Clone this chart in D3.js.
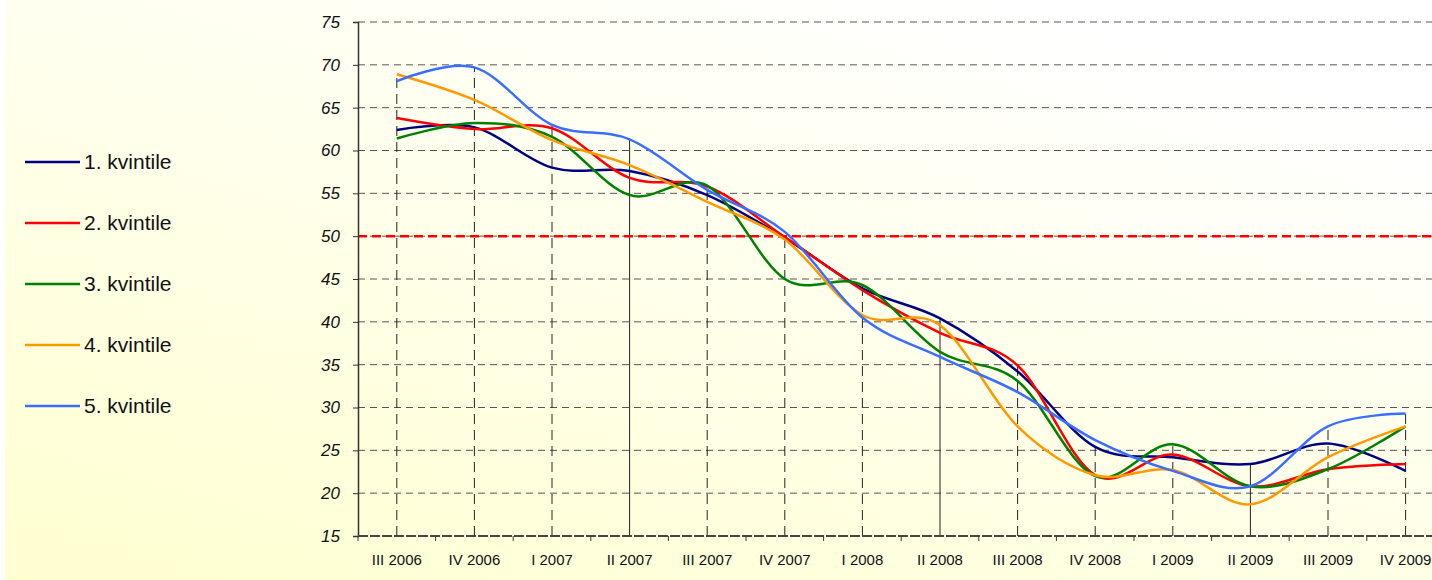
<!DOCTYPE html>
<html>
<head>
<meta charset="utf-8">
<script src="https://cdn.jsdelivr.net/npm/d3@7"></script>
<style>
  html, body { margin: 0; padding: 0; }
  svg { display: block; font-family: Arial, "Liberation Sans", sans-serif; }
</style>
</head>
<body>
<svg width="1432" height="580"></svg>
<script>
// Data
var quarters = ["III 2006", "IV 2006", "I 2007", "II 2007", "III 2007", "IV 2007", "I 2008",
                "II 2008", "III 2008", "IV 2008", "I 2009", "II 2009", "III 2009", "IV 2009"];
var seriesNames = ["1. kvintile", "2. kvintile", "3. kvintile", "4. kvintile", "5. kvintile"];
var kvintile1 = [62.4, 62.7, 58.0, 57.6, 54.8, 49.8, 43.9, 40.4, 34.2, 25.4, 24.2, 23.4, 25.8, 22.6];
var kvintile2 = [63.8, 62.5, 62.6, 56.8, 55.8, 49.9, 43.7, 38.7, 34.9, 22.1, 24.5, 20.8, 22.8, 23.4];
var kvintile3 = [61.4, 63.2, 61.6, 54.8, 55.9, 45.0, 44.3, 36.5, 33.1, 22.0, 25.7, 20.8, 22.8, 27.8];
var kvintile4 = [68.9, 65.9, 61.2, 58.3, 54.0, 49.6, 40.8, 39.6, 27.8, 22.1, 22.7, 18.7, 24.2, 27.8];
var kvintile5 = [68.1, 69.7, 63.0, 61.3, 55.4, 50.5, 40.5, 35.9, 31.8, 26.2, 22.6, 20.8, 27.8, 29.3];
var yTicks = [15, 20, 25, 30, 35, 40, 45, 50, 55, 60, 65, 70, 75];
var threshold = 50;

var allSeries = [kvintile1, kvintile2, kvintile3, kvintile4, kvintile5];
var colors = ["#000080", "#ff0000", "#008000", "#ff9900", "#3a6eff"];

var svg = d3.select("svg"),
    margin = { top: 22, left: 358 },
    step = 77.6,
    height = 514;

// achtergrond met verloop
var defs = svg.append("defs");
var grad = defs.append("linearGradient")
    .attr("id", "bg")
    .attr("x1", "0").attr("y1", "1")
    .attr("x2", "0.7").attr("y2", "0");
grad.append("stop").attr("offset", "0").attr("stop-color", "#ffffd0");
grad.append("stop").attr("offset", "1").attr("stop-color", "#ffffff");
svg.append("rect").attr("width", 1432).attr("height", 580).attr("fill", "url(#bg)");
svg.append("rect").attr("width", 5).attr("height", 580).attr("fill", "#ffffff");

// schalen
var x = d3.scaleBand().domain(quarters)
    .range([margin.left, margin.left + step * quarters.length]);
var y = d3.scaleLinear().domain([15, 75]).range([margin.top + height, margin.top]);

// horizontale rasterlijnen
svg.append("g")
  .selectAll("line")
  .data(yTicks.slice(1))
  .enter().append("line")
    .attr("x1", margin.left).attr("x2", 1432)
    .attr("y1", function(d) { return y(d); })
    .attr("y2", function(d) { return y(d); })
    .attr("stroke", "#555")
    .attr("stroke-width", 1)
    .attr("stroke-dasharray", "7,5");

// verticale lijnen van hoogste punt naar de as
svg.append("g")
  .selectAll("line")
  .data(quarters)
  .enter().append("line")
    .attr("x1", function(d) { return x(d) + x.bandwidth() / 2; })
    .attr("x2", function(d) { return x(d) + x.bandwidth() / 2; })
    .attr("y1", y(15))
    .attr("y2", function(d, i) { return y(d3.max(allSeries, function(s) { return s[i]; })); })
    .attr("stroke", "#222")
    .attr("stroke-width", 1)
    .attr("stroke-dasharray", function(d, i) { return i % 4 === 3 ? null : "10,6"; });

// rode 50-lijn
svg.append("line")
    .attr("x1", margin.left).attr("x2", 1432)
    .attr("y1", y(threshold)).attr("y2", y(threshold))
    .attr("stroke", "#ff0000")
    .attr("stroke-width", 2.5)
    .attr("stroke-dasharray", "9,5");

// assen
var yAxis = svg.append("g")
    .attr("transform", "translate(" + margin.left + ",0)")
    .call(d3.axisLeft(y).tickValues(yTicks).tickSize(5).tickPadding(13));
yAxis.selectAll("text")
    .style("font-size", "17px")
    .style("font-style", "italic")
    .attr("fill", "#111");
yAxis.select(".domain").attr("stroke", "#333").attr("stroke-width", 1.5);
yAxis.selectAll(".tick line").attr("stroke", "#333");

var xAxis = svg.append("g")
    .attr("transform", "translate(0," + y(15) + ")")
    .call(d3.axisBottom(x).tickSize(0).tickPadding(18));
xAxis.select(".domain").remove();
xAxis.selectAll("text").style("font-size", "15px").attr("fill", "#111");

// tickjes tussen de kwartalen
svg.append("g")
  .selectAll("line")
  .data(d3.range(quarters.length + 1))
  .enter().append("line")
    .attr("x1", function(i) { return margin.left + i * step; })
    .attr("x2", function(i) { return margin.left + i * step; })
    .attr("y1", y(15)).attr("y2", y(15) + 5)
    .attr("stroke", "#333");
svg.append("line")
    .attr("x1", margin.left).attr("x2", 1432)
    .attr("y1", y(15)).attr("y2", y(15))
    .attr("stroke", "#444").attr("stroke-width", 2)
    .attr("stroke-dasharray", "10,2");

// lijnen
var line = d3.line()
    .x(function(d, i) { return x(quarters[i]) + x.bandwidth() / 2; })
    .y(function(d) { return y(d); })
    .curve(d3.curveCardinal.tension(0));

svg.append("g")
  .selectAll("path")
  .data(allSeries)
  .enter().append("path")
    .attr("d", line)
    .attr("fill", "none")
    .attr("stroke", function(d, i) { return colors[i]; })
    .attr("stroke-width", 2.5);

// legenda
var legend = svg.append("g")
  .selectAll("g")
  .data(seriesNames)
  .enter().append("g")
    .attr("transform", function(d, i) { return "translate(25," + (162 + i * 61) + ")"; });
legend.append("line")
    .attr("x1", 0).attr("x2", 55)
    .attr("stroke", function(d, i) { return colors[i]; })
    .attr("stroke-width", 2.5);
legend.append("text")
    .attr("x", 59)
    .attr("dy", "0.35em")
    .style("font-size", "21px")
    .attr("fill", "#111")
    .text(function(d) { return d; });
</script>
</body>
</html>
